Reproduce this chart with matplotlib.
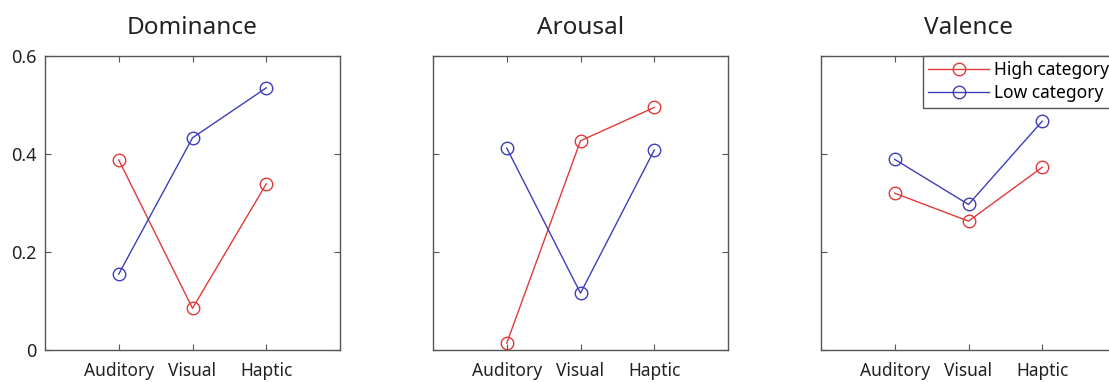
import matplotlib.pyplot as plt

plt.rcParams['font.family'] = ['Noto Sans', 'DejaVu Sans']

modality = ['Auditory', 'Visual', 'Haptic']
titles = ['Dominance', 'Arousal', 'Valence']

# mean scores per modality, high vs low category
high_dominance = [0.388, 0.085, 0.339]
low_dominance = [0.155, 0.433, 0.535]
high_arousal = [0.014, 0.427, 0.495]
low_arousal = [0.412, 0.116, 0.408]
high_valence = [0.320, 0.263, 0.373]
low_valence = [0.389, 0.297, 0.467]

high = [high_dominance, high_arousal, high_valence]
low = [low_dominance, low_arousal, low_valence]

red = '#e03a3a'
blue = '#3e3eb8'
edge = '#555555'

fig = plt.figure(figsize=(11.09, 3.82), dpi=100)
W, H = 1109, 382
lefts = [45, 433, 821]
x = [1, 2, 3]

for i, left in enumerate(lefts):
    ax = fig.add_axes([left / W, 32 / H, 295 / W, 294 / H])
    ax.plot(x, high[i], '-o', color=red, mfc='none', ms=9, lw=1, mew=1,
            label='High category')
    ax.plot(x, low[i], '-o', color=blue, mfc='none', ms=9, lw=1, mew=1,
            label='Low category')
    ax.set_xlim(0, 4)
    ax.set_ylim(0, 0.6)
    ax.set_xticks(x)
    ax.set_xticklabels(modality, fontsize=12.5, color='#222222')
    ax.set_yticks([0, 0.2, 0.4, 0.6])
    if i == 0:
        ax.set_yticklabels(['0', '0.2', '0.4', '0.6'], fontsize=13, color='#222222')
    else:
        ax.set_yticklabels([])
    ax.tick_params(direction='in', top=True, right=True, length=4,
                   color=edge, width=0.8)
    ax.tick_params(axis='x', pad=9)
    ax.tick_params(axis='y', pad=6)
    for s in ax.spines.values():
        s.set_color(edge)
        s.set_linewidth(1)
    ax.set_title(titles[i], fontsize=17.5, color='#222222', pad=16)
    if i == 2:
        leg = ax.legend(loc='upper left', bbox_to_anchor=(0.346, 1.0),
                        borderaxespad=0, fontsize=12.5, handlelength=3.5,
                        handletextpad=0.3, labelspacing=0.3, borderpad=0.3,
                        fancybox=False, framealpha=1)
        leg.get_frame().set_edgecolor(edge)
        leg.get_frame().set_linewidth(1)

fig.savefig('out.png', dpi=100)
